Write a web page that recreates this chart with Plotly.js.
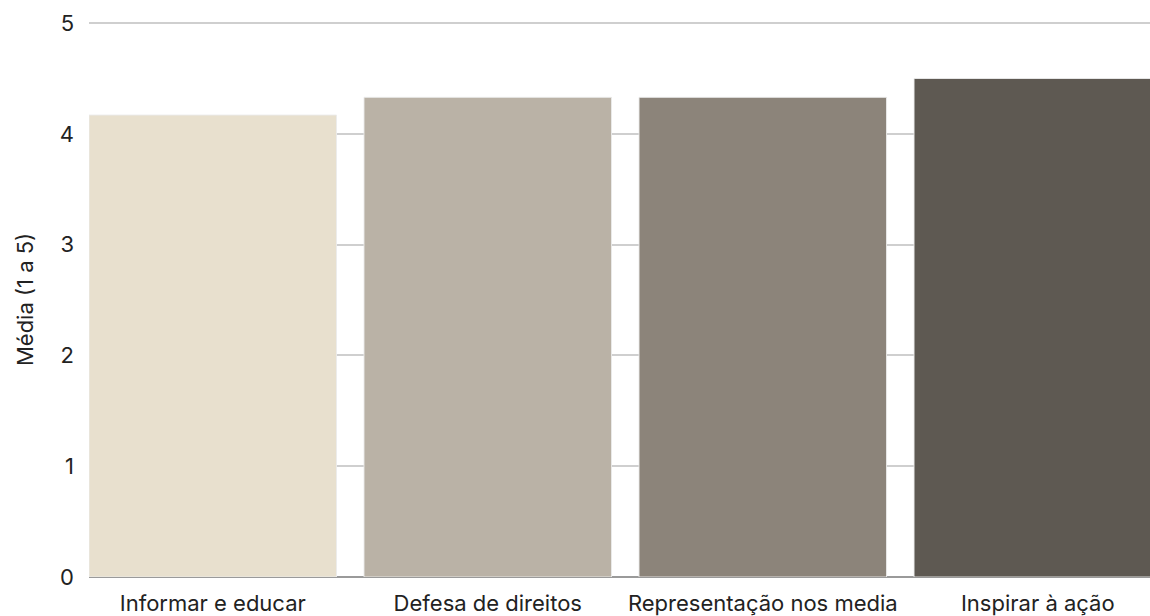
<!DOCTYPE html>
<html>
<head>
<meta charset="utf-8">
<script src="https://cdn.plot.ly/plotly-3.0.1.min.js"></script>
<style>html,body{margin:0;padding:0;overflow:hidden;background:#fff;}</style>
</head>
<body>
<div id="chart" style="width:1150px;height:616px;"></div>
<script>
const categories = ["Informar e educar", "Defesa de direitos", "Representação nos media", "Inspirar à ação"];
const values = [4.17, 4.33, 4.33, 4.5];
const barColors = ["#E8E0CE", "#BAB2A6", "#8C847A", "#5E5952"];
const yTickVals = [0, 1, 2, 3, 4, 5];

const trace = {
  type: "bar",
  x: categories,
  y: values,
  marker: {color: barColors, line: {color: "rgba(235,235,235,0.9)", width: 1}},
  hoverinfo: "x+y"
};

const layout = {
  width: 1150,
  height: 616,
  margin: {l: 89, r: 0, t: 22, b: 39},
  paper_bgcolor: "#fff",
  plot_bgcolor: "#fff",
  bargap: 0.1,
  showlegend: false,
  font: {family: "Inter, 'Noto Sans', sans-serif", color: "#222", size: 22},
  xaxis: {
    range: [-0.45, 3.408],
    showgrid: false,
    zeroline: false,
    showline: false,
    ticks: "",
    ticklabelstandoff: 11,
    tickfont: {size: 22, color: "#222"}
  },
  yaxis: {
    range: [0, 5.01],
    tickvals: yTickVals,
    showgrid: true,
    gridcolor: "#cfcfcf",
    gridwidth: 1.5,
    zeroline: true,
    zerolinecolor: "#9a9a9a",
    zerolinewidth: 1.5,
    showline: false,
    ticks: "",
    ticklabelstandoff: 14,
    tickfont: {size: 22, color: "#222"},
    title: {text: "Média (1 a 5)", font: {size: 22, color: "#222"}, standoff: 20}
  }
};

Plotly.newPlot("chart", [trace], layout, {displayModeBar: false, responsive: false});
</script>
</body>
</html>
